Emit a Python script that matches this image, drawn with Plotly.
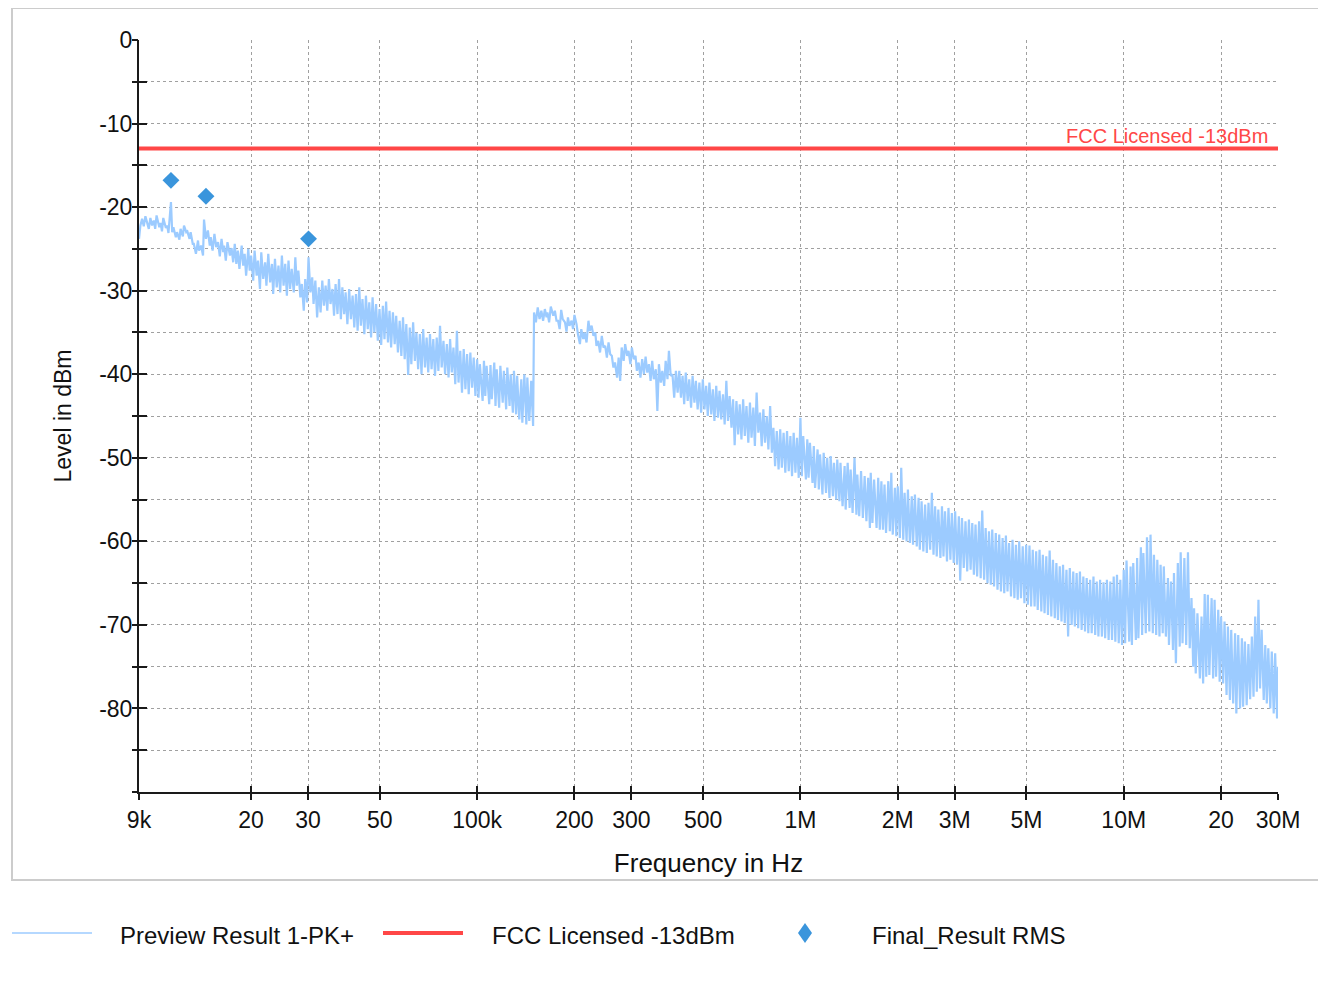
import math
import plotly.graph_objects as go

# ---------------- data ----------------
# Sweep frequency grid: explicit points from 9 kHz to 10 kHz, then
# E192 decade mantissas (E96 values + the E192 values in between).
freq_9k = [9000, 9090, 9200, 9310, 9420, 9530, 9650, 9760, 9880]
E96 = [100, 102, 105, 107, 110, 113, 115, 118, 121, 124, 127, 130,
       133, 137, 140, 143, 147, 150, 154, 158, 162, 165, 169, 174,
       178, 182, 187, 191, 196, 200, 205, 210, 215, 221, 226, 232,
       237, 243, 249, 255, 261, 267, 274, 280, 287, 294, 301, 309,
       316, 324, 332, 340, 348, 357, 365, 374, 383, 392, 402, 412,
       422, 432, 442, 453, 464, 475, 487, 499, 511, 523, 536, 549,
       562, 576, 590, 604, 619, 634, 649, 665, 681, 698, 715, 732,
       750, 768, 787, 806, 825, 845, 866, 887, 909, 931, 953, 976]
E192_MID = [101, 104, 106, 109, 111, 114, 117, 120, 123, 126, 129, 132,
            135, 138, 142, 145, 149, 152, 156, 160, 164, 167, 172, 176,
            180, 184, 189, 193, 198, 203, 208, 213, 218, 223, 229, 234,
            240, 246, 252, 258, 264, 271, 277, 284, 291, 298, 305, 312,
            320, 328, 336, 344, 352, 361, 370, 379, 388, 397, 407, 417,
            427, 437, 448, 459, 470, 481, 493, 505, 517, 530, 542, 556,
            569, 583, 597, 612, 626, 642, 657, 673, 690, 706, 723, 741,
            759, 777, 796, 816, 835, 856, 876, 898, 920, 942, 965, 988]

# Preview Result 1-PK+ levels (dBm)
lvl_9k = [-23.8, -22.2, -21.4, -22.3, -21.1, -21.8, -22.6, -21.3, -22.2]
lvl_10k = [
    -21.6, -22.6, -21.0, -22.4, -21.9, -22.9, -21.3, -22.5, -22.2, -23.1, -19.4, -23.0,
    -22.4, -23.6, -23.0, -23.9, -22.6, -23.5, -22.2, -23.0, -22.9, -23.8, -23.0, -24.4,
    -24.4, -25.6, -24.0, -25.2, -24.6, -25.8, -21.5, -23.8, -22.8, -24.6, -23.6, -25.2,
    -23.2, -24.8, -24.2, -25.9, -23.8, -25.4, -24.6, -26.4, -24.2, -25.8, -24.9, -26.6,
    -24.4, -26.8, -25.2, -27.4, -24.6, -27.0, -25.6, -28.2, -25.0, -27.6, -25.8, -28.8,
    -25.2, -28.2, -26.4, -29.8, -25.4, -28.6, -26.6, -29.4, -25.6, -29.0, -26.8, -30.4,
    -26.2, -29.6, -27.0, -30.2, -25.8, -29.4, -26.8, -30.6, -26.4, -29.8, -27.4, -30.2,
    -26.0, -29.4, -27.6, -30.8, -29.2, -32.4, -28.6, -31.4, -26.0, -30.2, -28.4, -31.6,
    -28.8, -33.2, -29.6, -32.6, -28.8, -31.8, -29.4, -32.4, -28.6, -31.6, -29.8, -33.0,
    -29.2, -32.8, -28.6, -33.4, -29.6, -32.8, -30.2, -34.0, -29.8, -33.4, -30.6, -34.4,
    -30.4, -34.8, -29.6, -34.2, -31.0, -35.2, -30.6, -34.6, -31.4, -35.6, -30.8, -35.0,
    -31.6, -36.0, -32.2, -36.5, -31.8, -35.8, -31.3, -36.2, -32.4, -36.8, -32.6, -36.4,
    -33.0, -37.4, -33.6, -37.8, -33.2, -38.2, -34.0, -40.1, -34.4, -38.8, -33.8, -38.4,
    -35.0, -39.4, -35.2, -40.0, -34.6, -39.2, -35.6, -39.8, -35.2, -39.4, -35.8, -40.2,
    -35.6, -39.6, -34.2, -39.2, -36.0, -40.0, -36.4, -40.4, -35.8, -39.8, -36.8, -41.2,
    -34.8, -41.0, -37.2, -42.2, -37.0, -41.8, -37.6, -42.4, -37.4, -41.6, -38.0, -42.6]
lvl_100k = [
    -38.2, -42.8, -38.8, -43.2, -38.4, -42.6, -39.0, -43.6, -38.9, -43.0, -38.6, -43.8,
    -39.4, -44.0, -39.0, -43.4, -39.6, -44.2, -39.2, -43.8, -40.0, -44.6, -39.6, -44.8,
    -40.2, -45.4, -40.6, -45.8, -40.0, -46.0, -40.4, -45.6, -40.8, -46.2, -32.6, -33.8,
    -32.0, -33.4, -32.4, -33.6, -32.2, -33.2, -32.6, -33.8, -31.9, -33.0, -32.4, -33.6,
    -33.6, -34.6, -32.3, -33.4, -33.8, -34.9, -33.2, -34.2, -33.6, -34.6, -32.9, -34.0,
    -35.2, -36.4, -34.6, -35.8, -35.0, -36.2, -33.6, -34.8, -34.2, -35.4, -35.0, -36.6,
    -36.0, -37.4, -35.4, -36.8, -36.6, -38.0, -36.2, -37.6, -37.8, -39.2, -38.6, -40.4,
    -38.0, -40.8, -36.8, -38.4, -36.4, -37.8, -37.2, -38.8, -36.8, -38.2, -37.8, -39.6,
    -38.6, -40.4, -38.2, -40.0, -37.9, -39.8, -38.8, -40.8, -38.4, -40.6, -39.4, -44.4,
    -38.8, -41.0, -39.6, -41.4, -38.4, -40.6, -37.2, -40.2, -40.0, -42.8, -39.6, -42.2,
    -39.6, -42.8, -40.2, -43.6, -39.8, -43.2, -40.6, -44.0, -40.2, -43.4, -40.8, -44.2,
    -41.0, -44.6, -40.6, -44.2, -41.4, -45.0, -41.0, -44.8, -41.8, -45.6, -41.4, -45.2,
    -42.0, -45.4, -42.4, -46.0, -40.8, -45.6, -42.6, -46.4, -43.0, -48.5, -43.2, -47.2,
    -43.6, -47.8, -43.0, -47.4, -43.8, -48.2, -43.4, -47.6, -44.0, -48.6, -42.2, -47.0,
    -44.6, -48.6, -44.2, -48.2, -45.0, -49.0, -43.8, -49.4, -46.4, -51.0, -46.8, -51.4,
    -46.6, -51.2, -47.0, -51.8, -46.8, -51.6, -47.4, -52.2, -47.0, -51.8, -47.6, -52.4]
lvl_1M = [
    -45.2, -52.2, -47.4, -52.6, -47.8, -52.4, -48.2, -53.0, -48.6, -53.6, -49.0, -53.8,
    -49.6, -54.4, -49.4, -54.2, -50.0, -54.8, -49.8, -54.6, -50.6, -55.0, -50.2, -55.2,
    -50.6, -55.8, -51.0, -56.2, -50.6, -56.0, -51.4, -56.6, -50.0, -56.8, -52.0, -57.0,
    -51.6, -57.2, -52.2, -57.6, -52.4, -58.4, -51.8, -57.8, -52.6, -58.4, -52.4, -58.6,
    -52.8, -58.6, -53.2, -59.0, -52.8, -58.8, -51.8, -59.2, -53.6, -59.4, -53.4, -59.6,
    -51.2, -59.8, -54.2, -60.0, -53.8, -60.2, -54.6, -60.4, -54.4, -60.6, -54.8, -61.0,
    -55.2, -61.2, -55.6, -61.4, -55.4, -61.0, -54.2, -61.6, -55.8, -61.8, -56.2, -62.0,
    -55.8, -61.8, -56.4, -62.4, -56.0, -62.2, -56.6, -62.6, -56.4, -62.8, -57.0, -64.7,
    -57.2, -63.2, -57.6, -63.6, -57.4, -63.4, -57.8, -64.0, -58.0, -64.2, -57.6, -64.4,
    -56.3, -64.6, -58.4, -65.0, -58.8, -65.2, -58.6, -65.4, -59.0, -65.8, -59.2, -66.0,
    -59.6, -66.2, -59.3, -66.0, -60.2, -66.6, -59.8, -66.8, -60.4, -67.0, -60.0, -66.8,
    -60.6, -67.4, -60.4, -67.6, -60.5, -67.8, -61.0, -67.8, -61.2, -68.2, -61.0, -68.4,
    -61.6, -68.6, -61.8, -68.8, -61.1, -69.0, -62.2, -69.2, -62.6, -69.4, -63.0, -69.6,
    -62.8, -69.8, -63.4, -71.4, -63.2, -70.0, -63.6, -70.2, -63.8, -70.4, -63.6, -70.6,
    -64.2, -70.8, -64.4, -71.0, -64.6, -71.0, -64.2, -71.2, -64.8, -71.4, -64.6, -71.4,
    -64.9, -71.6, -64.6, -71.8, -64.8, -71.8, -64.2, -72.0, -64.0, -72.2, -64.6, -72.4]
lvl_10M = [
    -63.4, -72.2, -62.3, -72.0, -63.0, -72.4, -62.6, -71.8, -62.0, -71.6, -60.7, -71.2,
    -61.4, -71.0, -59.5, -70.8, -59.2, -71.0, -61.6, -71.2, -62.2, -71.4, -62.8, -71.0,
    -63.0, -71.4, -64.4, -72.4, -64.8, -73.0, -63.8, -74.6, -62.6, -72.6, -61.3, -72.2,
    -62.0, -72.4, -61.3, -72.8, -66.8, -75.0, -68.0, -75.8, -68.6, -76.4, -69.0, -77.0,
    -66.3, -76.2, -66.4, -76.0, -66.8, -76.4, -67.0, -76.2, -68.2, -76.8, -69.0, -77.0,
    -69.6, -78.4, -70.2, -79.0, -70.6, -79.4, -71.0, -80.6, -71.2, -80.0, -71.6, -79.8,
    -72.0, -79.6, -72.3, -78.9, -71.4, -78.6, -69.0, -78.0, -67.0, -77.6, -70.6, -79.0,
    -72.4, -79.4, -72.8, -80.0, -73.2, -80.6, -73.4, -81.2,
    -75.0]

preview_freq = list(freq_9k)
for mult, count in [(100, 96), (1000, 96), (10000, 96), (100000, 46)]:
    for i in range(count):
        preview_freq += [E96[i] * mult, E192_MID[i] * mult]
preview_freq.append(30000000)
preview_level = lvl_9k + lvl_10k + lvl_100k + lvl_1M + lvl_10M
assert len(preview_freq) == len(preview_level), (len(preview_freq), len(preview_level))

fcc_freq = [9000, 30000000]
fcc_level = [-13, -13]

final_freq = [11300, 14500, 30100]
final_level = [-16.8, -18.7, -23.8]

x_tickvals = [9e3, 2e4, 3e4, 5e4, 1e5, 2e5, 3e5, 5e5, 1e6, 2e6, 3e6, 5e6, 1e7, 2e7, 3e7]
x_ticktext = ["9k", "20", "30", "50", "100k", "200", "300", "500", "1M", "2M", "3M", "5M", "10M", "20", "30M"]
y_tickvals = list(range(-90, 1, 5))
y_ticktext = ["" if (v % 10 or v == -90) else str(v) for v in y_tickvals]

# ---------------- styling ----------------
FONT = "Liberation Sans, Arial, Helvetica, sans-serif"
BLUE_LIGHT = "#9ccbff"
RED = "#ff4747"
DIAMOND = "#3a95dc"
OFF = 8                      # page body margin
W, H = 1326 - OFF, 987 - OFF
L, R, T, B = 131, 48, 32, 195
PW, PH = W - L - R, H - T - B


def px(xr):
    return (xr - OFF - L) / PW


def py(yr):
    return (H - B - (yr - OFF)) / PH


xr = [math.log10(9000), math.log10(30e6)]
yr = [-90, 0]

fig = go.Figure()
fig.add_trace(go.Scatter(x=preview_freq, y=preview_level, mode="lines",
                         line=dict(color=BLUE_LIGHT, width=2.2),
                         name="Preview Result 1-PK+", showlegend=False))
fig.add_trace(go.Scatter(x=fcc_freq, y=fcc_level, mode="lines",
                         line=dict(color=RED, width=4),
                         name="FCC Licensed -13dBm", showlegend=False))
fig.add_trace(go.Scatter(x=final_freq, y=final_level, mode="markers",
                         marker=dict(symbol="diamond", size=13, color=DIAMOND),
                         name="Final_Result RMS", showlegend=False))
# helper trace for the second set of tick marks
fig.add_trace(go.Scatter(x=[], y=[], xaxis="x2", yaxis="y2", showlegend=False,
                         hoverinfo="skip"))

INK = "#1a1a1a"
grid = dict(showgrid=True, gridcolor="#a0a0a0", griddash="3px,3px", gridwidth=1)
fig.update_layout(
    width=W, height=H,
    margin=dict(l=L, r=R, t=T, b=B),
    paper_bgcolor="white", plot_bgcolor="white",
    font=dict(family=FONT, color="#111"),
    showlegend=False,
    xaxis=dict(type="log", range=xr, tickmode="array", tickvals=x_tickvals,
               ticktext=x_ticktext, showline=True, linewidth=2, linecolor=INK,
               ticks="outside", ticklen=6, tickwidth=2, tickcolor=INK, zeroline=False,
               tickfont=dict(size=23, color="#111", family=FONT),
               title=dict(text="Frequency in Hz", font=dict(size=26), standoff=22),
               **grid),
    yaxis=dict(range=yr, tickmode="array", tickvals=y_tickvals, ticktext=y_ticktext,
               showline=True, linewidth=2, linecolor=INK,
               ticks="inside", ticklen=8, tickwidth=2, tickcolor=INK, zeroline=False,
               tickfont=dict(size=23, color="#111", family=FONT),
               title=dict(text="Level in dBm", font=dict(size=23), standoff=21),
               **grid),
    xaxis2=dict(type="log", range=xr, overlaying="x", anchor="y2", side="bottom",
                tickmode="array", tickvals=x_tickvals, ticks="inside", ticklen=6,
                tickwidth=2, tickcolor=INK, showticklabels=False,
                showgrid=False, showline=False, zeroline=False),
    yaxis2=dict(range=yr, overlaying="y", anchor="x2", side="left",
                tickmode="array", tickvals=y_tickvals, ticks="outside", ticklen=6,
                tickwidth=2, tickcolor=INK, showticklabels=False,
                showgrid=False, showline=False, zeroline=False),
)

# FCC limit label
fig.add_annotation(x=math.log10(30e6), y=-13, xref="x", yref="y", text="FCC Licensed -13dBm",
                   showarrow=False, xanchor="right", yanchor="bottom", xshift=-8, yshift=0,
                   font=dict(size=20, color=RED, family=FONT))

# outer frame
fig.add_shape(type="rect", xref="paper", yref="paper", x0=px(12), x1=px(1323),
              y0=py(880), y1=py(8), line=dict(color="#cccccc", width=2), layer="below")

# legend (below the frame)
LEG_Y = 933
fig.add_shape(type="line", xref="paper", yref="paper", x0=px(12), x1=px(92),
              y0=py(LEG_Y), y1=py(LEG_Y), line=dict(color=BLUE_LIGHT, width=1.5))
fig.add_shape(type="line", xref="paper", yref="paper", x0=px(383), x1=px(463),
              y0=py(LEG_Y), y1=py(LEG_Y), line=dict(color=RED, width=4))
fig.add_shape(type="path", xref="paper", yref="paper", xsizemode="pixel", ysizemode="pixel",
              xanchor=px(805), yanchor=py(LEG_Y), path="M0,10 L7,0 L0,-10 L-7,0 Z",
              fillcolor=DIAMOND, line=dict(width=0))
for xt, txt in [(118, "Preview Result 1-PK+"), (490, "FCC Licensed -13dBm"), (870, "Final_Result RMS")]:
    fig.add_annotation(x=px(xt), y=py(LEG_Y + 2), xref="paper", yref="paper", text=txt,
                       showarrow=False, xanchor="left", yanchor="middle",
                       font=dict(size=24, color="#111", family=FONT))

fig.write_html("out.html")
